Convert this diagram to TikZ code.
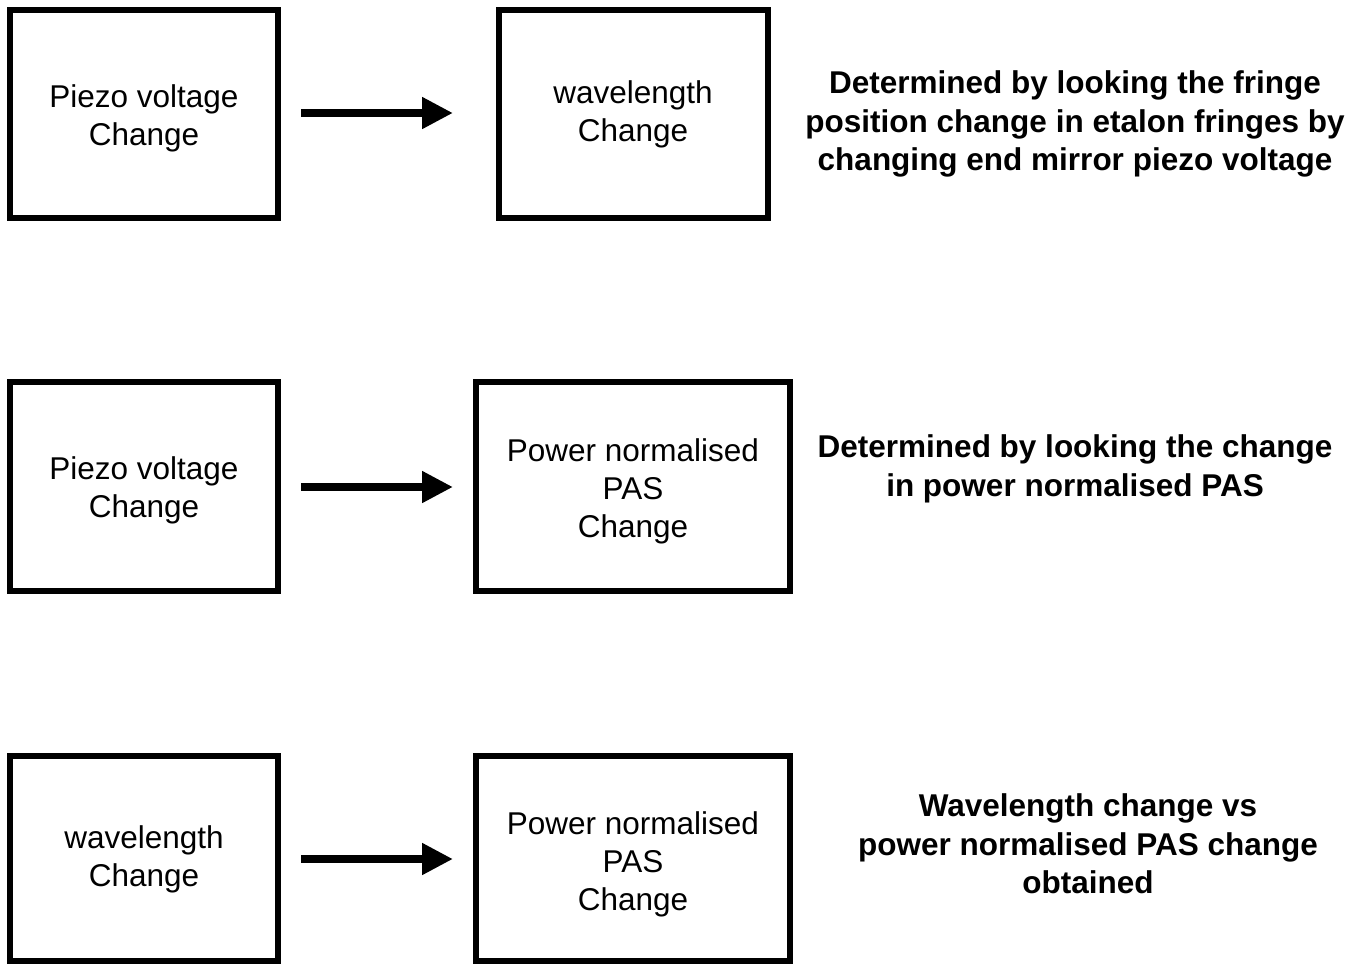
\documentclass[tikz,border=0pt]{standalone}
\usepackage{fontspec}
\setmainfont{Liberation Sans}
\usetikzlibrary{arrows.meta}
\begin{document}
\begin{tikzpicture}[x=1pt,y=-1pt,
  blockbox/.style={draw=black,line width=6pt,fill=white},
  boxtext/.style={align=center,font=\fontsize{31.5}{38}\selectfont,inner sep=0pt},
  notetext/.style={align=center,font=\fontsize{31.5}{38.5}\selectfont\bfseries,inner sep=0pt},
  flowarrow/.style={line width=8pt,-{Triangle[length=31pt,width=30pt]}}]
\useasboundingbox[fill=white] (0,0) rectangle (1362,964);
% Row 1
\draw[blockbox] (10,10) rectangle (278,218);
\draw[blockbox] (499,10) rectangle (768,218);
\node[boxtext] (a1) at (144,118) {Piezo voltage\\Change};
\node[boxtext] (b1) at (633,114) {wavelength\\Change};
\coordinate (a1e) at (301,113);
\coordinate (b1w) at (453,113);
\draw[flowarrow] (a1e) -- (b1w);
\node[notetext] (n1) at (1075,124) {Determined by looking the fringe\\position change in etalon fringes by\\changing end mirror piezo voltage};
% Row 2
\draw[blockbox] (10,382) rectangle (278,591);
\draw[blockbox] (476,382) rectangle (790,591);
\node[boxtext] (a2) at (144,490) {Piezo voltage\\Change};
\node[boxtext] (b2) at (633,491) {Power normalised\\PAS\\Change};
\coordinate (a2e) at (301,487);
\coordinate (b2w) at (453,487);
\draw[flowarrow] (a2e) -- (b2w);
\node[notetext] (n2) at (1075,469) {Determined by looking the change\\in power normalised PAS};
% Row 3
\draw[blockbox] (10,756) rectangle (278,961);
\draw[blockbox] (476,756) rectangle (790,961);
\node[boxtext] (a3) at (144,859) {wavelength\\Change};
\node[boxtext] (b3) at (633,864) {Power normalised\\PAS\\Change};
\coordinate (a3e) at (301,859);
\coordinate (b3w) at (453,859);
\draw[flowarrow] (a3e) -- (b3w);
\node[notetext] (n3) at (1088,844) {Wavelength change vs\\power normalised PAS change\\obtained};
\end{tikzpicture}
\end{document}
